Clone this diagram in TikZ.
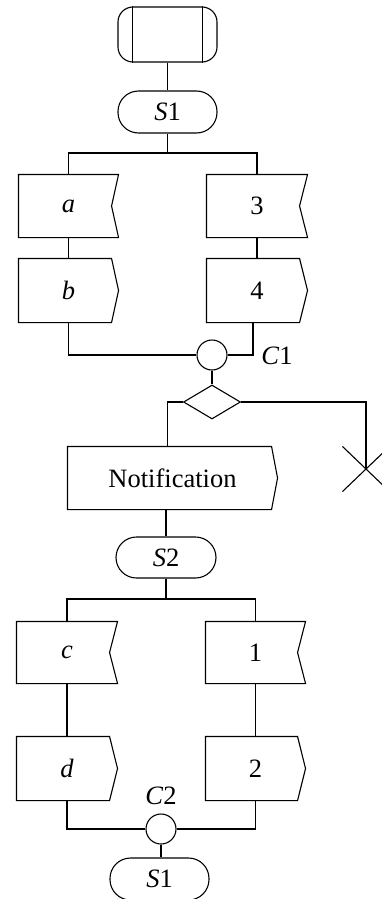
\documentclass[tikz,border=0pt]{standalone}
\usepackage{fontspec}
\setmainfont{Liberation Serif}
\usetikzlibrary{shapes.geometric}
\newcommand\recvbox[2]{\draw (#1.north west) -- (#1.north east) -- ([xshift=-#2]#1.east) -- (#1.south east) -- (#1.south west) -- cycle;}
\newcommand\sendbox[2]{\draw (#1.north west) -- ([xshift=-#2]#1.north east) -- (#1.east) -- ([xshift=-#2]#1.south east) -- (#1.south west) -- cycle;}
\begin{document}
\begin{tikzpicture}[x=1pt,y=-1pt,line width=1.1pt,
  every node/.style={font=\fontsize{26.5}{30}\selectfont, inner sep=0pt},
  sig/.style={minimum width=#1, minimum height=62pt},
  stadium/.style={draw, rounded corners=20.5pt, minimum width=99pt, minimum height=42pt},
  conn/.style={draw, circle, minimum size=30pt}]
\useasboundingbox (0,0) rectangle (382,899);
% start
\node[draw, rounded corners=15pt, minimum width=99pt, minimum height=55pt] (start) at (167.5,34.5) {};
\draw ([xshift=15pt]start.north west) -- ([xshift=15pt]start.south west);
\draw ([xshift=-15pt]start.north east) -- ([xshift=-15pt]start.south east);
\node[stadium] (s1) at (167.5,112) {\textit{S}1};
\coordinate (j1) at (167.5,153);
% first parallel
\node[sig=99pt] (a) at (68.5,206) {\textit{a}};
\recvbox{a}{7pt}
\node[sig=100pt] (n3) at (257,206) {3};
\recvbox{n3}{8pt}
\node[sig=99pt, minimum height=63pt] (b) at (68.5,290.5) {\textit{b}};
\sendbox{b}{7pt}
\node[sig=100pt, minimum height=63pt] (n4) at (257,290.5) {4};
\sendbox{n4}{8pt}
\node[conn] (c1) at (212,355) {};
\node (c1l) at (277,356) {\textit{C}1};
\node[draw, diamond, minimum width=57pt, minimum height=34pt] (dia) at (212,402) {};
\node[sig=209pt] (notif) at (172.5,478) {Notification};
\sendbox{notif}{6pt}
\node[minimum width=46pt, minimum height=44pt] (x) at (366,469) {};
\draw (x.north west) -- (x.south east) (x.north east) -- (x.south west);
\node[stadium, minimum width=100pt, minimum height=41pt] (s2) at (166,557.5) {\textit{S}2};
\coordinate (j2) at (166,599);
% second parallel
\node[sig=100pt, minimum height=61pt] (c) at (67,652.5) {\textit{c}};
\recvbox{c}{8pt}
\node[sig=99pt, minimum height=61pt] (n1) at (255.5,652.5) {1};
\recvbox{n1}{8pt}
\node[sig=100pt, minimum height=63pt] (d) at (67,768.5) {\textit{d}};
\sendbox{d}{8pt}
\node[sig=99pt, minimum height=63pt] (n2) at (255.5,768.5) {2};
\sendbox{n2}{8pt}
\node[conn] (c2) at (161,829) {};
\node (c2l) at (161,796) {\textit{C}2};
\node[stadium] (s1b) at (159.5,879) {\textit{S}1};
% connectors
\draw (start.south) -- (s1.north);
\draw (s1.south) -- (j1);
\draw (a.north) |- (j1) -| (n3.north);
\draw (a.south) -- (b.north);
\draw (n3.south) -- (n4.north);
\draw (b.south) |- (c1.west);
\draw ([xshift=-4pt]n4.south) |- (c1.east);
\draw (c1.south) -- (dia.north);
\draw (dia.west) -| ([xshift=-5pt]notif.north);
\draw (dia.east) -| (x.center);
\draw (s2.north) -- (s2.north |- notif.south);
\draw (s2.south) -- (j2);
\draw (c.north) |- (j2) -| (n1.north);
\draw (c.south) -- (d.north);
\draw (n1.south) -- (n2.north);
\draw (d.south) |- (c2.west);
\draw (n2.south) |- (c2.east);
\draw (c2.south) -- (c2.south |- s1b.north);
\end{tikzpicture}
\end{document}
